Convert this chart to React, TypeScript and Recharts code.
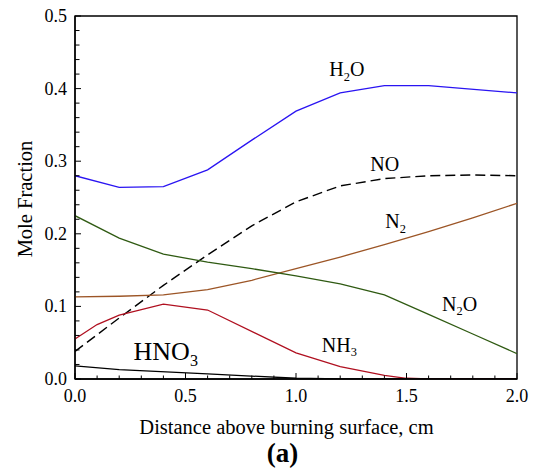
import React from "react";
import {
  LineChart,
  Line,
  XAxis,
  YAxis,
  ReferenceArea,
  ReferenceDot,
  Label,
} from "recharts";

// Species profiles: distance above burning surface (cm) vs mole fraction
const h2o = [
  { d: 0, v: 0.28 },
  { d: 0.2, v: 0.264 },
  { d: 0.4, v: 0.265 },
  { d: 0.6, v: 0.288 },
  { d: 0.8, v: 0.329 },
  { d: 1.0, v: 0.369 },
  { d: 1.2, v: 0.394 },
  { d: 1.4, v: 0.404 },
  { d: 1.6, v: 0.404 },
  { d: 2.0, v: 0.394 },
];

const no = [
  { d: 0, v: 0.038 },
  { d: 0.2, v: 0.084 },
  { d: 0.4, v: 0.129 },
  { d: 0.6, v: 0.171 },
  { d: 0.8, v: 0.211 },
  { d: 1.0, v: 0.244 },
  { d: 1.2, v: 0.266 },
  { d: 1.4, v: 0.276 },
  { d: 1.6, v: 0.28 },
  { d: 1.8, v: 0.281 },
  { d: 2.0, v: 0.28 },
];

const n2 = [
  { d: 0, v: 0.113 },
  { d: 0.2, v: 0.114 },
  { d: 0.4, v: 0.116 },
  { d: 0.6, v: 0.123 },
  { d: 0.8, v: 0.136 },
  { d: 1.0, v: 0.152 },
  { d: 1.2, v: 0.168 },
  { d: 1.4, v: 0.185 },
  { d: 1.6, v: 0.203 },
  { d: 1.8, v: 0.222 },
  { d: 2.0, v: 0.242 },
];

const n2o = [
  { d: 0, v: 0.225 },
  { d: 0.2, v: 0.194 },
  { d: 0.4, v: 0.172 },
  { d: 0.6, v: 0.161 },
  { d: 0.8, v: 0.152 },
  { d: 1.0, v: 0.142 },
  { d: 1.2, v: 0.131 },
  { d: 1.4, v: 0.116 },
  { d: 1.6, v: 0.089 },
  { d: 1.8, v: 0.062 },
  { d: 2.0, v: 0.035 },
];

const nh3 = [
  { d: 0, v: 0.055 },
  { d: 0.1, v: 0.075 },
  { d: 0.2, v: 0.088 },
  { d: 0.4, v: 0.103 },
  { d: 0.6, v: 0.095 },
  { d: 1.0, v: 0.036 },
  { d: 1.2, v: 0.017 },
  { d: 1.4, v: 0.005 },
  { d: 1.5, v: 0.001 },
  { d: 1.6, v: 0 },
  { d: 2.0, v: 0 },
];

const hno3 = [
  { d: 0, v: 0.018 },
  { d: 0.2, v: 0.013 },
  { d: 0.6, v: 0.007 },
  { d: 1.0, v: 0.001 },
  { d: 1.2, v: 0 },
  { d: 2.0, v: 0 },
];

const xTicks = [
  0, 0.1, 0.2, 0.3, 0.4, 0.5, 0.6, 0.7, 0.8, 0.9, 1.0, 1.1, 1.2, 1.3, 1.4,
  1.5, 1.6, 1.7, 1.8, 1.9, 2.0,
];

const yTicks = [
  0, 0.02, 0.04, 0.06, 0.08, 0.1, 0.12, 0.14, 0.16, 0.18, 0.2, 0.22, 0.24,
  0.26, 0.28, 0.3, 0.32, 0.34, 0.36, 0.38, 0.4, 0.42, 0.44, 0.46, 0.48, 0.5,
];

// species label: [name, subscript, rest], anchored at data coords
const speciesLabels = [
  { d: 1.151, v: 0.417, parts: ["H", "2", "O"], size: 20 },
  { d: 1.336, v: 0.287, parts: ["NO", "", ""], size: 20 },
  { d: 1.404, v: 0.2075, parts: ["N", "2", ""], size: 20 },
  { d: 1.661, v: 0.0937, parts: ["N", "2", "O"], size: 20 },
  { d: 1.117, v: 0.0376, parts: ["NH", "3", ""], size: 20 },
  { d: 0.265, v: 0.0262, parts: ["HNO", "3", ""], size: 26 },
];

const FONT = "'Liberation Serif', 'Times New Roman', serif";

const isStep = (v: number, k: number) =>
  Math.abs(v * k - Math.round(v * k)) < 1e-6;

const XTick = (props: any) => {
  const { x, y, payload } = props;
  const major = isStep(payload.value, 2);
  return (
    <g>
      <line x1={x} x2={x} y1={y} y2={y - (major ? 6 : 3.5)} stroke="#000" strokeWidth={1} />
      {major && (
        <text x={x} y={y + 23} textAnchor="middle" fontSize={18} fontFamily={FONT} fill="#000">
          {payload.value.toFixed(1)}
        </text>
      )}
    </g>
  );
};

const YTick = (props: any) => {
  const { x, y, payload } = props;
  const major = isStep(payload.value, 10);
  return (
    <g>
      <line x1={x} x2={x + (major ? 6 : 4.5)} y1={y} y2={y} stroke="#000" strokeWidth={1} />
      {major && (
        <text x={x - 8} y={y + 6} textAnchor="end" fontSize={18} fontFamily={FONT} fill="#000">
          {payload.value.toFixed(1)}
        </text>
      )}
    </g>
  );
};

const XTitle = (props: any) => {
  const { x, y, width } = props.viewBox;
  const cx = x + width / 2 - 9.5;
  return (
    <g fontFamily={FONT} fill="#000">
      <text x={cx} y={y + 55} textAnchor="middle" fontSize={20.5}>
        Distance above burning surface, cm
      </text>
      <text x={cx - 4} y={y + 83} textAnchor="middle" fontSize={27} fontWeight="bold">
        (a)
      </text>
    </g>
  );
};

const YTitle = (props: any) => {
  const { y, height } = props.viewBox;
  const cy = y + height / 2 + 1.5;
  return (
    <text
      x={32}
      y={cy}
      transform={`rotate(-90, 32, ${cy})`}
      textAnchor="middle"
      fontSize={20.5}
      fontFamily={FONT}
      fill="#000"
    >
      Mole Fraction
    </text>
  );
};

const speciesShape = (parts: string[], size: number) => (props: any) => {
  const { cx, cy } = props;
  const sub = size * 0.62;
  return (
    <text x={cx} y={cy} fontSize={size} fontFamily={FONT} fill="#000">
      {parts[0]}
      {parts[1] && (
        <tspan fontSize={sub} dy={size * 0.22}>
          {parts[1]}
        </tspan>
      )}
      {parts[2] && <tspan dy={-size * 0.22}>{parts[2]}</tspan>}
    </text>
  );
};

export default function App() {
  return (
    <div style={{ position: "absolute", left: 0, top: 0, background: "#fff" }}>
      <LineChart
        width={539}
        height={471}
        margin={{ top: 16, right: 22, bottom: 52, left: 15 }}
      >
        <XAxis
          type="number"
          dataKey="d"
          domain={[0, 2]}
          ticks={xTicks}
          interval={0}
          tickSize={0}
          tickMargin={0}
          tick={<XTick />}
          axisLine={{ stroke: "#000", strokeWidth: 1.4 }}
          tickLine={false}
          height={40}
          allowDataOverflow
        >
          <Label content={<XTitle />} />
        </XAxis>
        <YAxis
          type="number"
          dataKey="v"
          domain={[0, 0.5]}
          ticks={yTicks}
          interval={0}
          tickSize={0}
          tickMargin={0}
          tick={<YTick />}
          axisLine={{ stroke: "#000", strokeWidth: 1.4 }}
          tickLine={false}
          width={60}
          allowDataOverflow
        >
          <Label content={<YTitle />} />
        </YAxis>
        <ReferenceArea
          x1={0}
          x2={2}
          y1={0}
          y2={0.5}
          fill="none"
          stroke="#000"
          strokeWidth={1.3}
        />
        <Line data={h2o} dataKey="v" type="linear" stroke="#2a14f2" strokeWidth={1.3} dot={false} isAnimationActive={false} />
        <Line data={no} dataKey="v" type="linear" stroke="#000" strokeWidth={1.4} strokeDasharray="10 5" dot={false} isAnimationActive={false} />
        <Line data={n2} dataKey="v" type="linear" stroke="#9c5526" strokeWidth={1.3} dot={false} isAnimationActive={false} />
        <Line data={n2o} dataKey="v" type="linear" stroke="#2f5a12" strokeWidth={1.3} dot={false} isAnimationActive={false} />
        <Line data={nh3} dataKey="v" type="linear" stroke="#b01020" strokeWidth={1.3} dot={false} isAnimationActive={false} />
        <Line data={hno3} dataKey="v" type="linear" stroke="#000" strokeWidth={1.3} dot={false} isAnimationActive={false} />
        {speciesLabels.map((s) => (
          <ReferenceDot
            key={s.parts.join("")}
            x={s.d}
            y={s.v}
            r={0}
            shape={speciesShape(s.parts, s.size)}
          />
        ))}
      </LineChart>
    </div>
  );
}
